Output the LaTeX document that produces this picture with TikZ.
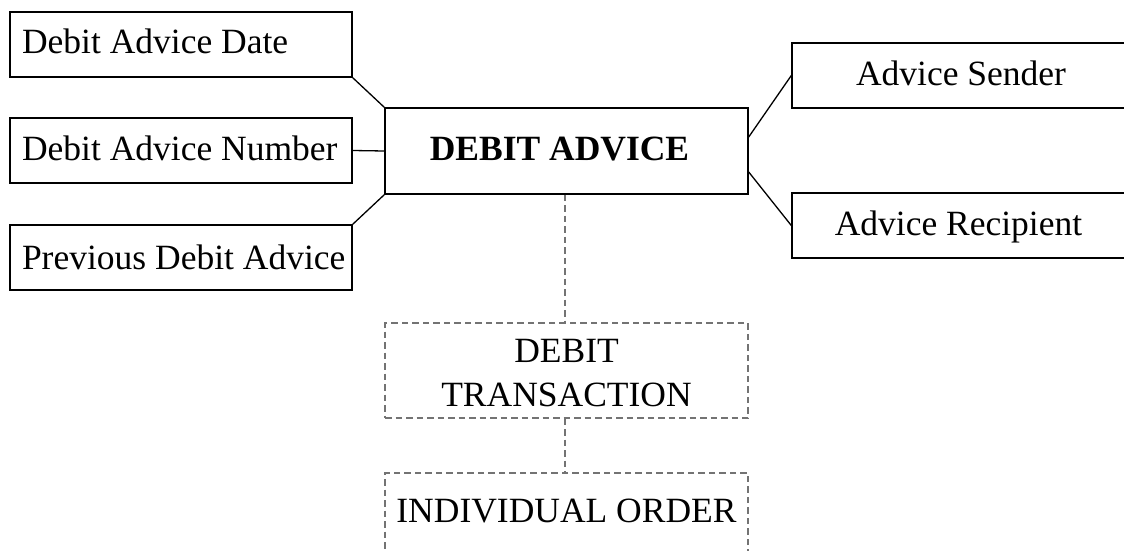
\documentclass[tikz,border=0pt]{standalone}
\usepackage{fontspec}
\setmainfont{Liberation Serif}
\usetikzlibrary{calc}
\begin{document}
\begin{tikzpicture}[x=1pt,y=-1pt,
  every node/.style={font=\fontsize{35.5}{44}\selectfont},
  entity/.style={draw=black, line width=1.4pt, inner sep=0pt,
    text height=24pt, text depth=5pt},
  attrleft/.style={entity, minimum width=342pt, minimum height=65pt, inner xsep=12pt},
  attrright/.style={entity, minimum width=338pt, minimum height=65pt},
  link/.style={draw=black, line width=1.3pt},
  weak/.style={draw=black!55, line width=1.1pt, dash pattern=on 6.5pt off 4pt},
  weakbox/.style={weak, inner sep=0pt, align=center, minimum width=363pt}]
\useasboundingbox (0,0) rectangle (1124,551);
\clip (0,0) rectangle (1124,551);

% central entity
\node[entity, minimum width=363pt, minimum height=86pt, font=\fontsize{35.5}{44}\selectfont\bfseries]
  (main) at (566.5,151) {\hspace*{-14pt}DEBIT ADVICE};

% attributes on the left
\node[attrleft] (date) at (181,44.5) {\makebox[318pt][l]{Debit Advice Date}};
\node[attrleft] (number) at (181,150.5) {\makebox[318pt][l]{Debit Advice Number}};
\node[attrleft, text height=28pt] (prev) at (181,257.5) {\makebox[318pt][l]{Previous Debit Advice}};

% attributes on the right
\node[attrright] (sender) at (961,75.5) {Advice Sender};
\node[attrright] (recipient) at (961,225.5) {\hspace*{-5pt}Advice Recipient};

% dependent entities
\node[weakbox, minimum height=95pt] (trans) at (566.5,370.5)
  {\rule{0pt}{29pt}DEBIT\\TRANSACTION};
\node[weakbox, minimum height=87pt, text height=20pt, text depth=9pt] (order) at (566.5,516.5)
  {INDIVIDUAL ORDER};

% connectors
\draw[link] (date.south east) -- (main.north west);
\draw[link] (number.east) -- (main.west);
\draw[link] (prev.north east) -- (main.south west);
\draw[link] ($(main.north east)!0.34!(main.south east)$) -- (sender.west);
\draw[link] ($(main.north east)!0.74!(main.south east)$) -- (recipient.west);
\draw[weak] ([xshift=-1.5pt]main.south) -- ([xshift=-1.5pt]trans.north);
\draw[weak] ([xshift=-1.5pt]trans.south) -- ([xshift=-1.5pt]order.north);
\end{tikzpicture}
\end{document}
